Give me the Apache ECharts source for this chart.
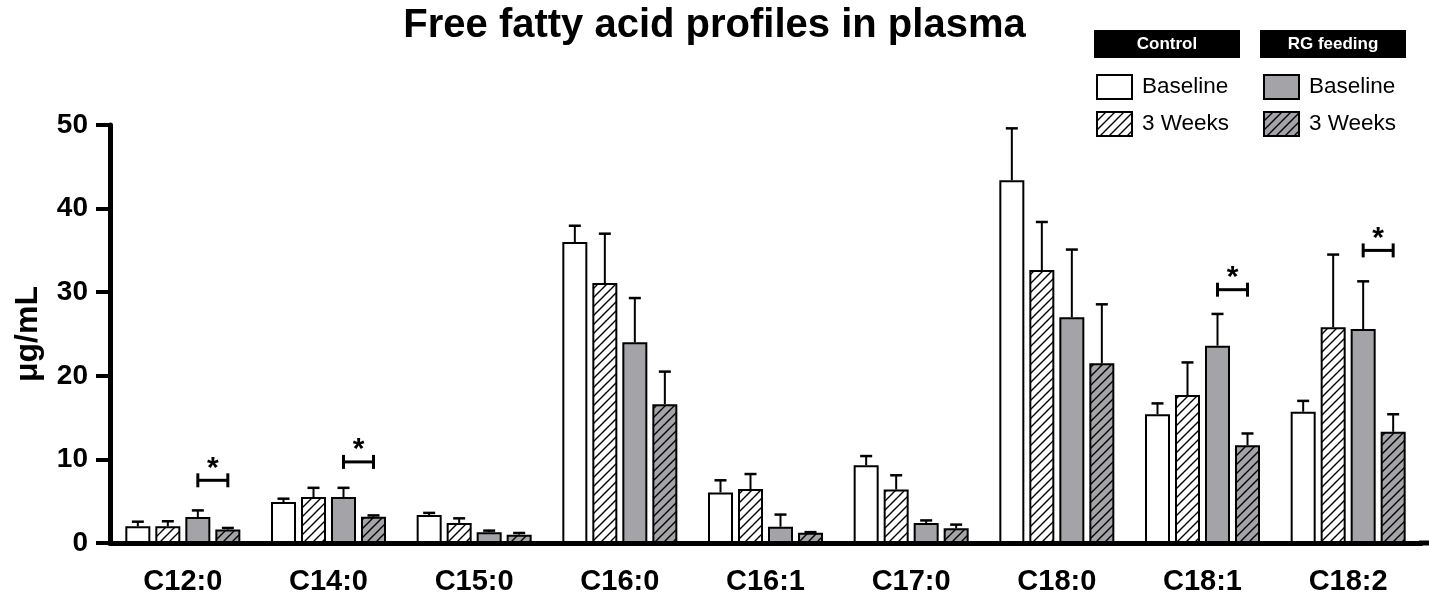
<!DOCTYPE html>
<html>
<head>
<meta charset="utf-8">
<title>Free fatty acid profiles in plasma</title>
<script src="https://cdn.jsdelivr.net/npm/echarts@6/dist/echarts.min.js"></script>
<style>
  html, body { margin: 0; padding: 0; background: #fff; }
  #chart { width: 1429px; height: 600px; }
</style>
</head>
<body>
<div id="chart"></div>
<script>
// fatty acids on the x axis
var categories = ['C12:0', 'C14:0', 'C15:0', 'C16:0', 'C16:1', 'C17:0', 'C18:0', 'C18:1', 'C18:2'];

// means (ug/mL) and upper error (SD)
var ctrlBase   = [2.0, 4.9, 3.35, 36.0, 6.05, 9.3, 43.4, 15.4, 15.7];
var ctrlBaseSd = [0.55, 0.4, 0.25, 1.95, 1.45, 1.1, 6.2, 1.3, 1.3];
var ctrl3w     = [2.0, 5.5, 2.4, 31.1, 6.45, 6.4, 32.65, 17.7, 25.8];
var ctrl3wSd   = [0.6, 1.1, 0.55, 5.9, 1.8, 1.7, 5.75, 3.9, 8.7];
var rgBase     = [3.1, 5.5, 1.28, 24.0, 1.95, 2.4, 27.0, 23.6, 25.6];
var rgBaseSd   = [0.8, 1.1, 0.2, 5.3, 1.45, 0.3, 8.1, 3.8, 5.7];
var rg3w       = [1.6, 3.15, 1.0, 16.6, 1.23, 1.75, 21.5, 11.7, 13.3];
var rg3wSd     = [0.2, 0.15, 0.2, 3.9, 0.07, 0.45, 7.05, 1.4, 2.1];

// significance brackets (RG baseline vs RG 3 weeks)
var sigCats = ['C12:0', 'C14:0', 'C18:1', 'C18:2'];
var sigY    = [7.5, 9.7, 30.3, 35.0];

var yTicks = [0, 10, 20, 30, 40, 50];

var FONT = "'Liberation Sans', Arial, Helvetica, sans-serif";
var GREY = '#a3a3a8';
var BAR_W = 25, BAR_GAP = 5;

function hatch(bg) {
    var c = document.createElement('canvas');
    c.width = 9; c.height = 9;
    var ctx = c.getContext('2d');
    ctx.fillStyle = bg;
    ctx.fillRect(0, 0, 9, 9);
    ctx.strokeStyle = '#000';
    ctx.lineWidth = 1.4;
    ctx.beginPath();
    ctx.moveTo(-1, 10); ctx.lineTo(10, -1);
    ctx.moveTo(-2, 2); ctx.lineTo(2, -2);
    ctx.moveTo(7, 11); ctx.lineTo(11, 7);
    ctx.stroke();
    return { image: c, repeat: 'repeat' };
}

var groups = [
    { name: 'Control|Baseline', mean: ctrlBase, sd: ctrlBaseSd, fill: '#ffffff' },
    { name: 'Control|3 Weeks',  mean: ctrl3w,   sd: ctrl3wSd,   fill: hatch('#ffffff') },
    { name: 'RG feeding|Baseline', mean: rgBase, sd: rgBaseSd,  fill: GREY },
    { name: 'RG feeding|3 Weeks',  mean: rg3w,   sd: rg3wSd,    fill: hatch(GREY) }
];

function errorSeries(g, idx) {
    var offset = (idx - 1.5) * (BAR_W + BAR_GAP);
    return {
        type: 'custom',
        name: g.name + ' err',
        z: 3,
        data: categories.map(function (c, i) { return [i, g.mean[i], g.mean[i] + g.sd[i]]; }),
        renderItem: function (params, api) {
            var lo = api.coord([api.value(0), api.value(1)]);
            var hi = api.coord([api.value(0), api.value(2)]);
            var x = lo[0] + offset;
            return {
                type: 'group',
                children: [
                    { type: 'line', shape: { x1: x, y1: lo[1], x2: x, y2: hi[1] }, style: { stroke: '#000', lineWidth: 2 } },
                    { type: 'line', shape: { x1: x - 6, y1: hi[1], x2: x + 6, y2: hi[1] }, style: { stroke: '#000', lineWidth: 2.5 } }
                ]
            };
        }
    };
}

var series = [];
groups.forEach(function (g) {
    series.push({
        type: 'bar',
        name: g.name,
        data: g.mean,
        barWidth: BAR_W,
        barGap: (BAR_GAP / BAR_W * 100) + '%',
        itemStyle: { color: g.fill, borderColor: '#000', borderWidth: 2 }
    });
});
groups.forEach(function (g, i) { series.push(errorSeries(g, i)); });

// brackets with stars
series.push({
    type: 'custom',
    name: 'sig',
    z: 4,
    data: sigCats.map(function (c, i) { return [categories.indexOf(c), sigY[i]]; }),
    renderItem: function (params, api) {
        var p = api.coord([api.value(0), api.value(1)]);
        var step = BAR_W + BAR_GAP;
        var x1 = p[0] + 0.5 * step, x2 = p[0] + 1.5 * step, y = p[1];
        var st = { stroke: '#000', lineWidth: 3 };
        return {
            type: 'group',
            children: [
                { type: 'line', shape: { x1: x1, y1: y, x2: x2, y2: y }, style: st },
                { type: 'line', shape: { x1: x1, y1: y - 7, x2: x1, y2: y + 7 }, style: st },
                { type: 'line', shape: { x1: x2, y1: y - 7, x2: x2, y2: y + 7 }, style: st },
                { type: 'text', x: (x1 + x2) / 2, y: y + 3, style: {
                    text: '*', fill: '#000', font: 'bold 30px ' + FONT, align: 'center', verticalAlign: 'bottom' } }
            ]
        };
    }
});

var legendBase = {
    orient: 'vertical', top: 74, padding: 0,
    itemWidth: 35, itemHeight: 24, itemGap: 11, icon: 'rect',
    formatter: function (n) { return n.split('|')[1]; },
    textStyle: { fontFamily: FONT, fontSize: 22.5, lineHeight: 24, color: '#000', padding: [0, 0, 0, 5] }
};

var chart = echarts.init(document.getElementById('chart'));
chart.setOption({
    backgroundColor: '#fff',
    animation: false,
    title: {
        text: 'Free fatty acid profiles in plasma',
        left: 'center',
        top: 1,
        textStyle: { fontFamily: FONT, fontWeight: 'bold', fontSize: 40, color: '#000' }
    },
    legend: [
        Object.assign({}, legendBase, { data: [groups[0].name, groups[1].name], left: 1096 }),
        Object.assign({}, legendBase, { data: [groups[2].name, groups[3].name], left: 1263 })
    ],
    graphic: [
        { type: 'rect', left: 1094, top: 30, shape: { width: 146, height: 28 }, style: { fill: '#000' } },
        { type: 'text', x: 1167, y: 44, style: { text: 'Control', fill: '#fff', font: 'bold 17px ' + FONT, align: 'center', verticalAlign: 'middle' } },
        { type: 'rect', left: 1260, top: 30, shape: { width: 146, height: 28 }, style: { fill: '#000' } },
        { type: 'text', x: 1333, y: 44, style: { text: 'RG feeding', fill: '#fff', font: 'bold 17px ' + FONT, align: 'center', verticalAlign: 'middle' } },
        { type: 'line', shape: { x1: 1419, y1: 543, x2: 1429, y2: 543 }, style: { stroke: '#000', lineWidth: 5 } }
    ],
    grid: { left: 110, right: 8, top: 125, bottom: 57 },
    xAxis: {
        type: 'category',
        data: categories,
        axisLine: { lineStyle: { color: '#000', width: 5 } },
        axisTick: { alignWithLabel: true, length: 12, lineStyle: { color: '#000', width: 4 } },
        axisLabel: { color: '#000', fontFamily: FONT, fontWeight: 'bold', fontSize: 29, margin: 24 }
    },
    yAxis: {
        type: 'value',
        min: yTicks[0],
        max: yTicks[yTicks.length - 1],
        interval: 10,
        name: 'μg/mL',
        nameLocation: 'middle',
        nameRotate: 90,
        nameGap: 66,
        nameTextStyle: { color: '#000', fontFamily: FONT, fontWeight: 'bold', fontSize: 32 },
        axisLine: { show: true, lineStyle: { color: '#000', width: 5 } },
        axisTick: { show: true, length: 14, lineStyle: { color: '#000', width: 4 } },
        axisLabel: { color: '#000', fontFamily: FONT, fontWeight: 'bold', fontSize: 28, margin: 22 },
        splitLine: { show: false }
    },
    series: series
});
</script>
</body>
</html>
